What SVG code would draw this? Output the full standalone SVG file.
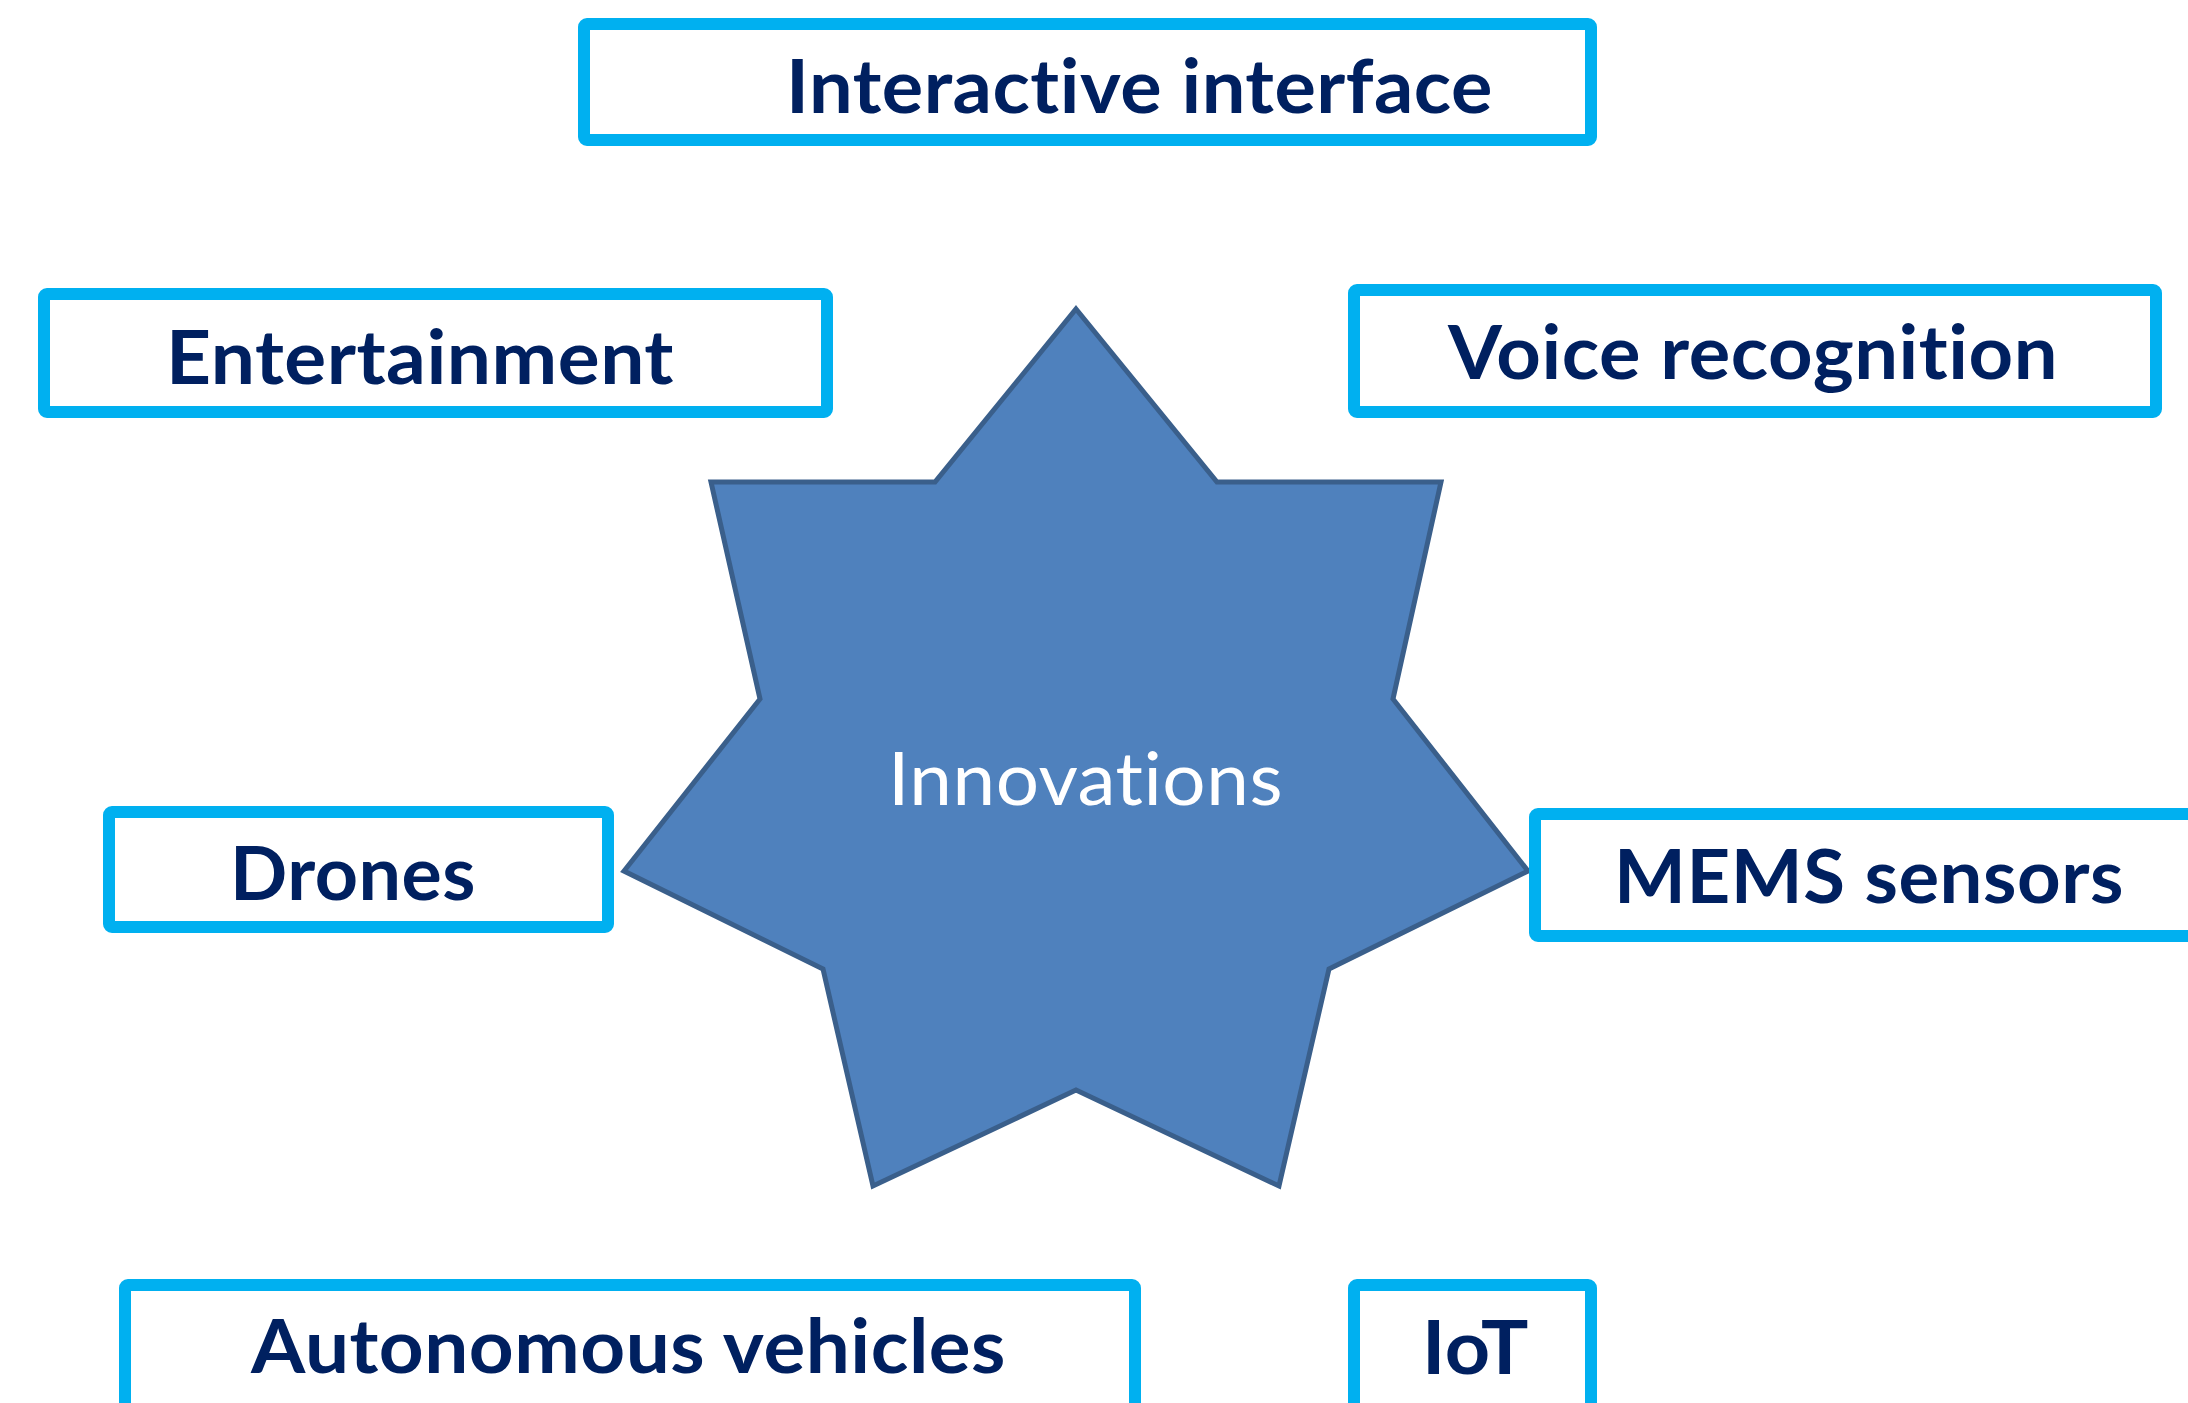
<svg xmlns="http://www.w3.org/2000/svg" width="2188" height="1403" viewBox="0 0 2188 1403">
  <style>
    .box { fill: #FFFFFF; stroke: #00B0F0; stroke-width: 12; }
    .label, .center { font-family: Lato, "Open Sans", "Liberation Sans", sans-serif; font-size: 74px; letter-spacing: 0.5px; font-variant-ligatures: none; font-feature-settings: "liga" 0, "clig" 0, "dlig" 0; }
    .label { font-weight: 700; fill: #002060; }
    .center { font-weight: 400; fill: #FFFFFF; }
    .star { fill: #4F81BD; stroke: #3A5F8B; stroke-width: 5; stroke-linejoin: miter; }
  </style>
  <rect width="2188" height="1403" fill="#FFFFFF"/>

  <!-- central seven-point star -->
  <g id="innovations">
    <polygon class="star" points="1076,309 1217,482 1441,482 1393,699 1528,871 1329,969 1279,1186 1076,1090 873,1186 823,969 624,871 760,699 711,482 935,482"/>
    <text class="center" x="888" y="805" textLength="395" lengthAdjust="spacingAndGlyphs">Innovations</text>
  </g>

  <g id="interactive-interface">
    <rect class="box" x="584" y="24" width="1007" height="116" rx="3"/>
    <text class="label" x="786" y="113" textLength="707" lengthAdjust="spacingAndGlyphs">Interactive interface</text>
  </g>

  <g id="entertainment">
    <rect class="box" x="44" y="294" width="783" height="118" rx="3"/>
    <text class="label" x="166" y="384" textLength="508" lengthAdjust="spacingAndGlyphs">Entertainment</text>
  </g>

  <g id="voice-recognition">
    <rect class="box" x="1354" y="290" width="802" height="122" rx="3"/>
    <text class="label" x="1448" y="379" textLength="610" lengthAdjust="spacingAndGlyphs">Voice recognition</text>
  </g>

  <g id="drones">
    <rect class="box" x="109" y="812" width="499" height="115" rx="3"/>
    <text class="label" x="230" y="900" textLength="246" lengthAdjust="spacingAndGlyphs">Drones</text>
  </g>

  <g id="mems-sensors">
    <rect class="box" x="1535" y="814" width="700" height="122" rx="3"/>
    <text class="label" x="1614" y="903" textLength="510" lengthAdjust="spacingAndGlyphs">MEMS sensors</text>
  </g>

  <g id="autonomous-vehicles">
    <rect class="box" x="125" y="1285" width="1010" height="200" rx="3"/>
    <text class="label" x="251" y="1373" textLength="755" lengthAdjust="spacingAndGlyphs">Autonomous vehicles</text>
  </g>

  <g id="iot">
    <rect class="box" x="1354" y="1285" width="237" height="200" rx="3"/>
    <text class="label" x="1422" y="1374" textLength="107" lengthAdjust="spacingAndGlyphs">IoT</text>
  </g>

  <!-- no connectors in this figure -->
  <g id="connectors"/>
</svg>
